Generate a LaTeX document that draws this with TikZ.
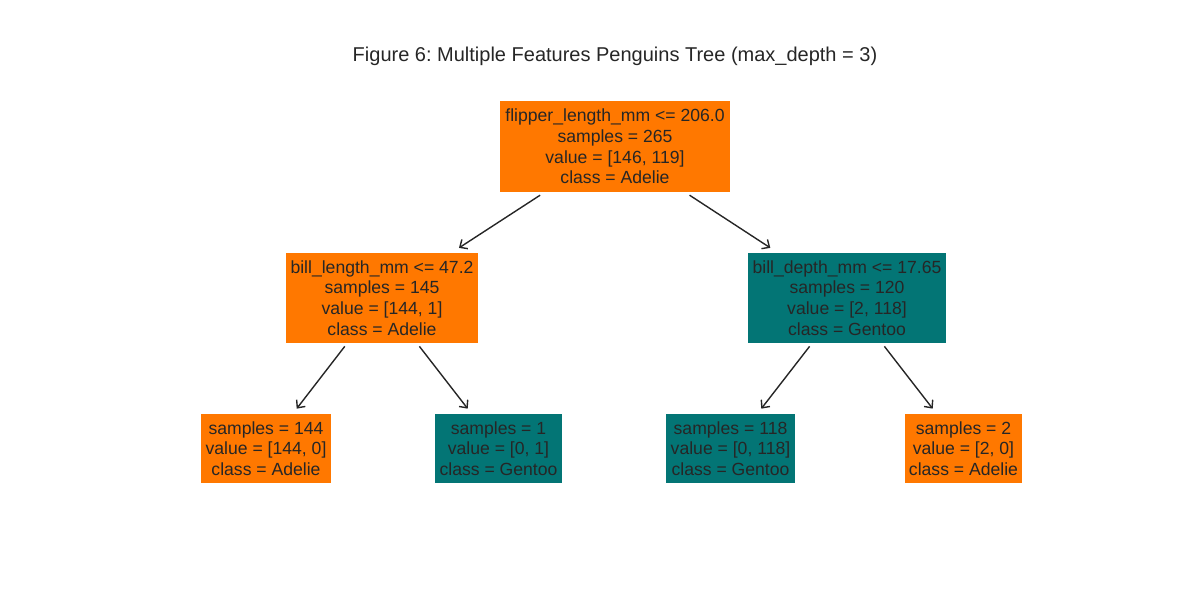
\documentclass[tikz,border=0pt]{standalone}
\usepackage{fontspec}
\setmainfont{Liberation Sans}
\usetikzlibrary{arrows.meta}
\frenchspacing
\definecolor{txt}{HTML}{262626}
\definecolor{adelie}{HTML}{FF7800}
\definecolor{gentoo}{HTML}{037575}
\tikzset{
  tnode/.style={rectangle, inner sep=0pt, align=center, text=txt,
    font=\fontsize{17.6}{20.7}\selectfont},
  orangebox/.style={tnode, fill=adelie},
  tealbox/.style={tnode, fill=gentoo},
  edge/.style={draw=txt, line width=1.4pt, -{Straight Barb[length=6pt,width=11pt]}},
  edgeA/.style={edge, shorten <=5.5pt, shorten >=9pt},
  edgeB/.style={edge, shorten <=4pt, shorten >=6.5pt},
}
\begin{document}
\begin{tikzpicture}[x=1pt,y=1pt]
\useasboundingbox (0,0) rectangle (1200,600);
\node[text=txt, font=\fontsize{20}{24}\selectfont] (title) at (615,544) {Figure 6: Multiple Features Penguins Tree (max\_depth = 3)};
\node[orangebox, minimum width=230pt, minimum height=91pt] (root) at (615,453.5)
  {flipper\_length\_mm <= 206.0\\samples = 265\\value = [146, 119]\\class = Adelie};
\node[orangebox, minimum width=192pt, minimum height=90pt] (l) at (382,302)
  {bill\_length\_mm <= 47.2\\samples = 145\\value = [144, 1]\\class = Adelie};
\node[tealbox, minimum width=198pt, minimum height=90pt] (r) at (847,302)
  {bill\_depth\_mm <= 17.65\\samples = 120\\value = [2, 118]\\class = Gentoo};
\node[orangebox, minimum width=130pt, minimum height=69pt] (ll) at (266,151.5)
  {samples = 144\\value = [144, 0]\\class = Adelie};
\node[tealbox, minimum width=127pt, minimum height=69pt] (lr) at (498.5,151.5)
  {samples = 1\\value = [0, 1]\\class = Gentoo};
\node[tealbox, minimum width=129pt, minimum height=69pt] (rl) at (730.5,151.5)
  {samples = 118\\value = [0, 118]\\class = Gentoo};
\node[orangebox, minimum width=117pt, minimum height=69pt] (rr) at (963.5,151.5)
  {samples = 2\\value = [2, 0]\\class = Adelie};
\draw[edgeA] (root) -- (l);
\draw[edgeA] (root) -- (r);
\draw[edgeB] (l) -- (ll);
\draw[edgeB] (l) -- (lr);
\draw[edgeB] (r) -- (rl);
\draw[edgeB] (r) -- (rr);
\end{tikzpicture}
\end{document}
